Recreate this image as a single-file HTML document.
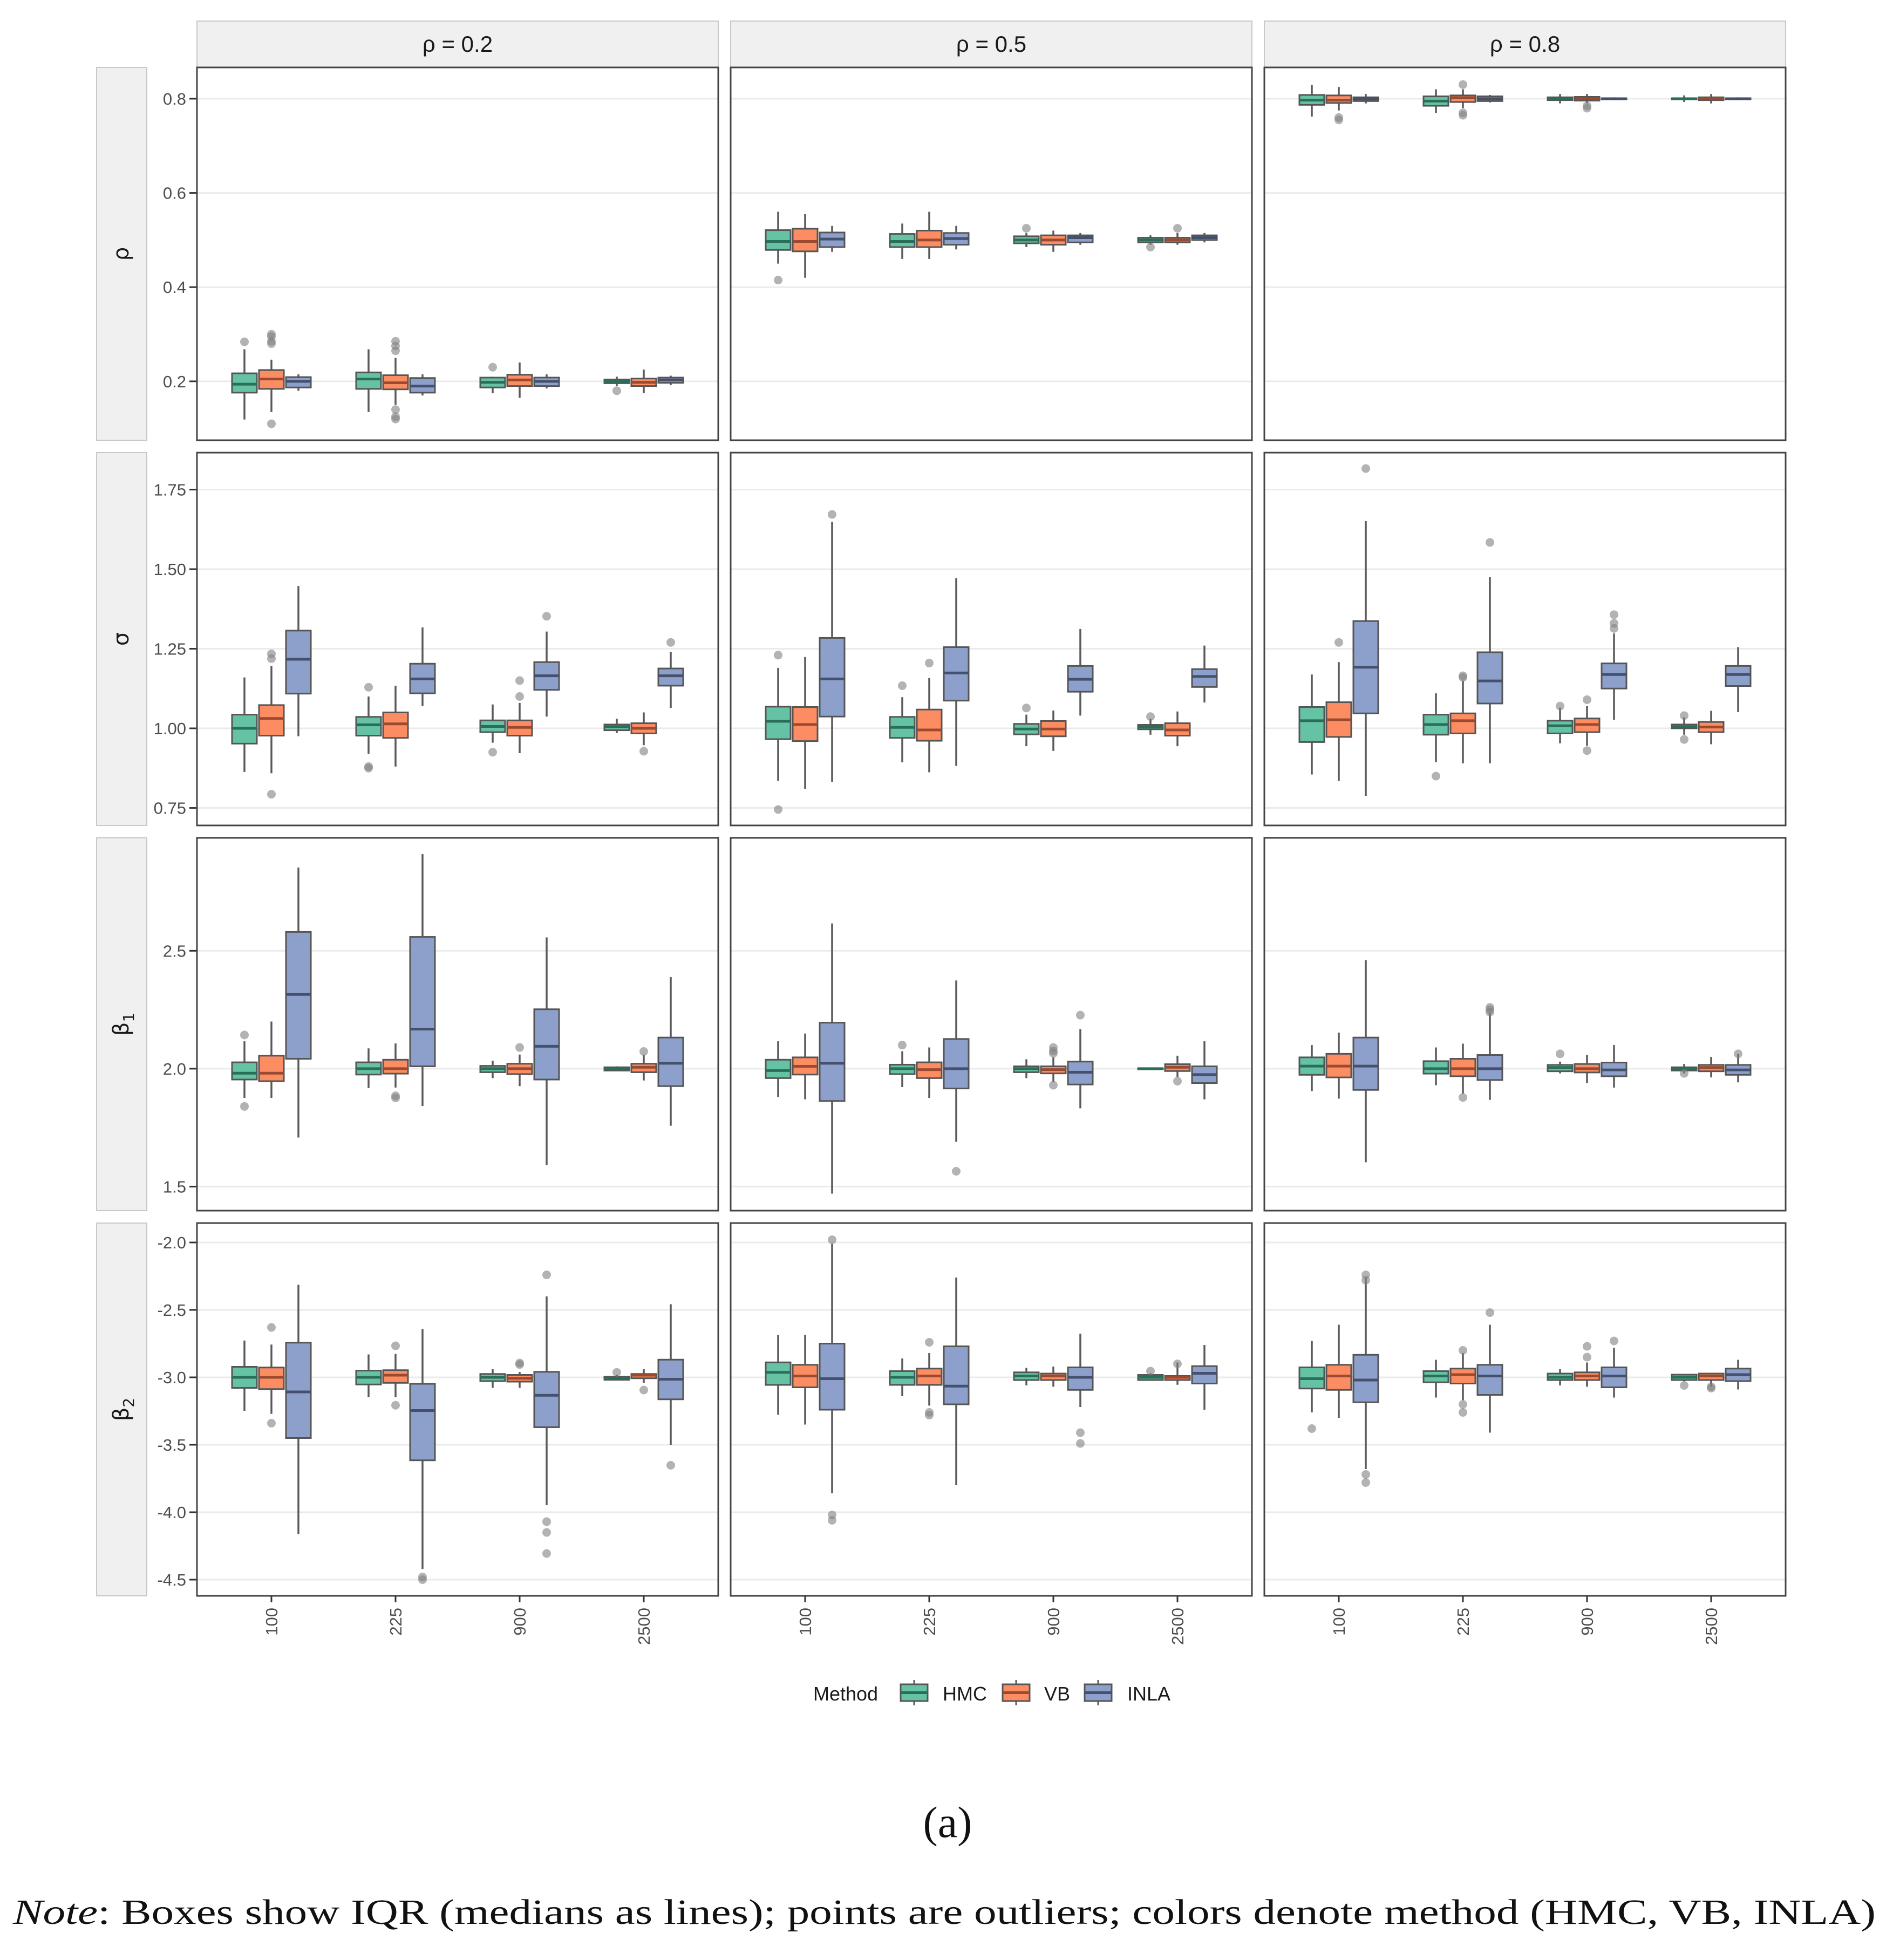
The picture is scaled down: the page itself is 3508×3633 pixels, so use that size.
<!DOCTYPE html>
<html><head><meta charset="utf-8"><style>
html,body{margin:0;padding:0;background:#fff;}
svg{display:block;}
</style></head><body>
<svg id="chart" xmlns="http://www.w3.org/2000/svg" width="3508" height="3633" viewBox="0 0 3508 3633">
<rect x="0" y="0" width="3508" height="3633" fill="#fff"/>
<g id="plots"></g>
<g id="legend"></g>
<text x="1756" y="3405" text-anchor="middle" font-family="Liberation Serif, serif" font-size="82" fill="#111">(a)</text>
<text x="24" y="3566" textLength="3452" lengthAdjust="spacingAndGlyphs" font-family="Liberation Serif, serif" font-size="66" fill="#111"><tspan font-style="italic">Note</tspan>: Boxes show IQR (medians as lines); points are outliers; colors denote method (HMC, VB, INLA)</text>
</svg>
<script>
const categories = ["100","225","900","2500"];
const methods = ["HMC","VB","INLA"];
const colLabels = ["ρ = 0.2","ρ = 0.5","ρ = 0.8"];
const rowLabels = ["ρ","σ","β1","β2"];
const rowDomains = [[0.075,0.8664],[0.695,1.866],[1.398,2.979],[-4.62,-1.856]];
const rowTicks = [[0.2,0.4,0.6,0.8],[0.75,1.0,1.25,1.5,1.75],[1.5,2.0,2.5],[-4.5,-4.0,-3.5,-3.0,-2.5,-2.0]];
const rowTickLabels = [["0.2","0.4","0.6","0.8"],["0.75","1.00","1.25","1.50","1.75"],["1.5","2.0","2.5"],["-4.5","-4.0","-3.5","-3.0","-2.5","-2.0"]];

// each box: [lower whisker, q1, median, q3, upper whisker]; order: n=100 (HMC,VB,INLA), n=225, n=900, n=2500
const rho_02 = [[0.119,0.176,0.194,0.217,0.268],[0.135,0.184,0.205,0.224,0.246],[0.18,0.187,0.2,0.209,0.215],
[0.135,0.184,0.205,0.219,0.268],[0.15,0.183,0.197,0.213,0.25],[0.17,0.176,0.19,0.207,0.215],
[0.175,0.187,0.198,0.208,0.21],[0.165,0.19,0.203,0.214,0.24],[0.185,0.19,0.2,0.208,0.215],
[0.19,0.196,0.2,0.204,0.21],[0.175,0.19,0.198,0.206,0.225],[0.192,0.197,0.203,0.208,0.212]];
const rho_02_out = [[0,0,0.284],[0,1,0.3],[0,1,0.295],[0,1,0.285],[0,1,0.28],[0,1,0.11],[1,1,0.285],[1,1,0.275],[1,1,0.265],[1,1,0.14],[1,1,0.125],[1,1,0.12],[2,0,0.23],[3,0,0.18]];
const rho_05 = [[0.45,0.479,0.497,0.521,0.56],[0.42,0.476,0.497,0.524,0.555],[0.475,0.485,0.502,0.516,0.53],
[0.46,0.485,0.497,0.513,0.535],[0.46,0.485,0.5,0.52,0.56],[0.48,0.49,0.503,0.515,0.53],
[0.485,0.493,0.5,0.508,0.515],[0.475,0.49,0.5,0.51,0.52],[0.49,0.495,0.505,0.51,0.515],
[0.49,0.495,0.5,0.505,0.51],[0.49,0.495,0.5,0.505,0.515],[0.495,0.5,0.505,0.51,0.515]];
const rho_05_out = [[0,0,0.415],[2,0,0.525],[3,0,0.485],[3,1,0.525]];
const rho_08 = [[0.762,0.787,0.797,0.808,0.829],[0.775,0.791,0.797,0.807,0.825],[0.79,0.795,0.8,0.803,0.81],
[0.77,0.785,0.795,0.805,0.82],[0.78,0.793,0.802,0.807,0.82],[0.792,0.795,0.8,0.805,0.808],
[0.79,0.797,0.8,0.803,0.81],[0.79,0.796,0.8,0.804,0.81],[0.797,0.799,0.8,0.801,0.803],
[0.793,0.799,0.8,0.801,0.807],[0.79,0.797,0.8,0.803,0.81],[0.797,0.799,0.8,0.801,0.803]];
const rho_08_out = [[0,1,0.755],[0,1,0.76],[1,1,0.83],[1,1,0.765],[1,1,0.77],[2,1,0.78],[2,1,0.785]];

const sigma_02 = [[0.863,0.952,1.0,1.043,1.16],[0.859,0.977,1.031,1.073,1.196],[0.975,1.109,1.217,1.307,1.447],
[0.92,0.977,1.011,1.036,1.1],[0.88,0.97,1.014,1.05,1.134],[1.07,1.11,1.155,1.203,1.317],
[0.955,0.988,1.006,1.025,1.075],[0.922,0.977,1.003,1.025,1.08],[1.037,1.121,1.165,1.208,1.304],
[0.985,0.994,1.005,1.012,1.03],[0.947,0.984,1.0,1.016,1.05],[1.064,1.134,1.165,1.188,1.24]];
const sigma_02_out = [[0,1,1.234],[0,1,1.219],[0,1,0.793],[1,0,1.129],[1,0,0.88],[1,0,0.875],[2,0,0.925],[2,1,1.15],[2,1,1.1],[2,2,1.352],[3,1,0.928],[3,2,1.27]];
const sigma_05 = [[0.835,0.966,1.022,1.068,1.19],[0.81,0.96,1.012,1.067,1.224],[0.832,1.037,1.155,1.284,1.649],
[0.893,0.97,1.003,1.036,1.098],[0.862,0.961,0.995,1.059,1.158],[0.882,1.087,1.174,1.255,1.472],
[0.944,0.981,0.998,1.014,1.043],[0.929,0.975,0.998,1.023,1.056],[1.04,1.115,1.154,1.196,1.312],
[0.98,0.997,1.004,1.011,1.03],[0.944,0.977,0.995,1.016,1.053],[1.081,1.13,1.163,1.186,1.26]];
const sigma_05_out = [[0,0,1.23],[0,0,0.745],[0,2,1.672],[1,0,1.134],[1,1,1.205],[2,0,1.064],[3,0,1.037]];
const sigma_08 = [[0.855,0.957,1.024,1.067,1.169],[0.835,0.973,1.027,1.082,1.208],[0.788,1.047,1.192,1.337,1.651],
[0.894,0.98,1.012,1.043,1.11],[0.89,0.984,1.024,1.047,1.15],[0.89,1.078,1.149,1.239,1.475],
[0.953,0.984,1.008,1.024,1.065],[0.945,0.988,1.012,1.031,1.07],[1.027,1.125,1.169,1.204,1.298],
[0.98,1.0,1.005,1.012,1.035],[0.95,0.988,1.004,1.02,1.055],[1.051,1.133,1.169,1.196,1.255]];
const sigma_08_out = [[0,1,1.27],[0,2,1.816],[1,0,0.85],[1,1,1.165],[1,1,1.16],[1,2,1.584],[2,0,1.07],[2,1,1.09],[2,1,0.93],[2,2,1.357],[2,2,1.33],[2,2,1.314],[3,0,1.04],[3,0,0.965]];

const beta1_02 = [[1.876,1.954,1.981,2.027,2.116],[1.876,1.947,1.981,2.055,2.2],[1.708,2.042,2.315,2.58,2.853],
[1.918,1.975,2.0,2.027,2.086],[1.92,1.979,2.0,2.038,2.107],[1.842,2.01,2.168,2.559,2.91],
[1.96,1.985,2.0,2.012,2.034],[1.926,1.977,2.0,2.021,2.06],[1.592,1.954,2.095,2.252,2.557],
[1.99,1.992,2.0,2.006,2.01],[1.95,1.985,2.006,2.021,2.06],[1.758,1.926,2.023,2.132,2.389]];
const beta1_02_out = [[0,0,2.143],[0,0,1.84],[1,1,1.876],[1,1,1.885],[2,1,2.09],[3,1,2.073]];
const beta1_05 = [[1.88,1.96,1.992,2.038,2.116],[1.87,1.975,2.01,2.048,2.149],[1.47,1.863,2.023,2.195,2.616],
[1.922,1.977,2.0,2.017,2.074],[1.876,1.96,1.996,2.027,2.09],[1.69,1.916,2.0,2.126,2.374],
[1.96,1.985,2.0,2.01,2.04],[1.943,1.98,1.996,2.01,2.048],[1.832,1.933,1.985,2.03,2.168],
[1.995,1.998,2.0,2.002,2.005],[1.964,1.99,2.006,2.019,2.055],[1.87,1.939,1.975,2.01,2.116]];
const beta1_05_out = [[1,0,2.1],[1,2,1.565],[2,1,2.09],[2,1,2.075],[2,1,2.065],[2,1,1.93],[2,2,2.227],[3,1,1.947]];
const beta1_08 = [[1.905,1.974,2.011,2.048,2.1],[1.873,1.963,2.011,2.063,2.153],[1.603,1.91,2.011,2.132,2.46],
[1.93,1.979,2.0,2.032,2.09],[1.894,1.968,2.0,2.042,2.106],[1.868,1.952,2.0,2.058,2.238],
[1.98,1.989,2.005,2.016,2.03],[1.94,1.984,2.0,2.02,2.058],[1.92,1.968,1.995,2.026,2.1],
[1.98,1.992,2.0,2.006,2.02],[1.963,1.989,2.005,2.016,2.05],[1.942,1.974,1.995,2.016,2.063]];
const beta1_08_out = [[1,1,1.878],[1,2,2.26],[1,2,2.25],[1,2,2.24],[2,0,2.063],[3,0,1.98],[3,2,2.063]];

const beta2_02 = [[-3.248,-3.078,-3.0,-2.922,-2.727],[-3.271,-3.087,-3.0,-2.927,-2.757],[-4.162,-3.45,-3.108,-2.743,-2.314],
[-3.147,-3.053,-3.0,-2.95,-2.83],[-3.147,-3.041,-2.984,-2.947,-2.826],[-4.421,-3.615,-3.246,-3.048,-2.642],
[-3.078,-3.028,-3.0,-2.975,-2.94],[-3.078,-3.032,-3.007,-2.982,-2.96],[-3.948,-3.37,-3.133,-2.959,-2.4],
[-3.02,-3.018,-3.007,-2.995,-2.98],[-3.04,-3.007,-2.984,-2.975,-2.94],[-3.5,-3.163,-3.014,-2.869,-2.458]];
const beta2_02_out = [[0,1,-2.63],[0,1,-3.34],[1,1,-2.766],[1,1,-3.207],[1,2,-4.48],[1,2,-4.5],[2,1,-2.894],[2,1,-2.905],[2,2,-2.24],[2,2,-4.07],[2,2,-4.15],[2,2,-4.306],[3,0,-2.963],[3,1,-3.094],[3,2,-3.652]];
const beta2_05 = [[-3.278,-3.056,-2.963,-2.889,-2.685],[-3.35,-3.074,-2.99,-2.907,-2.685],[-3.86,-3.24,-3.01,-2.75,-2.01],
[-3.14,-3.056,-3.0,-2.954,-2.86],[-3.21,-3.056,-2.99,-2.935,-2.82],[-3.8,-3.2,-3.065,-2.77,-2.26],
[-3.06,-3.02,-2.99,-2.963,-2.93],[-3.07,-3.02,-2.99,-2.972,-2.92],[-3.22,-3.093,-3.0,-2.926,-2.676],
[-3.02,-3.02,-3.0,-2.982,-2.97],[-3.055,-3.02,-3.0,-2.99,-2.89],[-3.24,-3.046,-2.97,-2.917,-2.76]];
const beta2_05_out = [[0,2,-1.98],[0,2,-4.02],[0,2,-4.06],[1,1,-2.74],[1,1,-3.26],[1,1,-3.28],[2,2,-3.41],[2,2,-3.49],[3,0,-2.954],[3,1,-2.9]];
const beta2_08 = [[-3.26,-3.083,-3.01,-2.926,-2.73],[-3.3,-3.093,-2.99,-2.907,-2.61],[-3.68,-3.185,-3.02,-2.833,-2.26],
[-3.15,-3.037,-2.99,-2.954,-2.87],[-3.17,-3.046,-2.98,-2.935,-2.82],[-3.41,-3.13,-2.99,-2.907,-2.61],
[-3.06,-3.02,-3.0,-2.972,-2.94],[-3.07,-3.02,-2.99,-2.963,-2.89],[-3.15,-3.074,-2.99,-2.926,-2.78],
[-3.03,-3.02,-3.0,-2.98,-2.98],[-3.07,-3.02,-2.99,-2.972,-2.97],[-3.09,-3.028,-2.98,-2.935,-2.87]];
const beta2_08_out = [[0,0,-3.38],[0,2,-2.24],[0,2,-2.28],[0,2,-3.72],[0,2,-3.78],[1,1,-2.8],[1,1,-3.2],[1,1,-3.26],[1,2,-2.52],[2,1,-2.77],[2,1,-2.85],[2,2,-2.73],[3,0,-3.06],[3,1,-3.07],[3,1,-3.08]];

const panelBoxes = [[rho_02,rho_05,rho_08],[sigma_02,sigma_05,sigma_08],[beta1_02,beta1_05,beta1_08],[beta2_02,beta2_05,beta2_08]];
const panelOut = [[rho_02_out,rho_05_out,rho_08_out],[sigma_02_out,sigma_05_out,sigma_08_out],[beta1_02_out,beta1_05_out,beta1_08_out],[beta2_02_out,beta2_05_out,beta2_08_out]];

const fills = ["#66c2a5","#fc8d62","#8da0cb"];
const meds = ["#2a6e5a","#9a4a2f","#44506c"];
const NS = "http://www.w3.org/2000/svg";
const PL = 365, PSTEP = 989, PW = 966, PT = 125, RSTEP = 714, PH = 691;
const root = document.getElementById("plots");
function mk(tag, attrs, parent){const e=document.createElementNS(NS,tag);for(const k in attrs)e.setAttribute(k,attrs[k]);parent.appendChild(e);return e;}
function xScale(col, cat, m){const band = PW/4.2;return PL+col*PSTEP+(cat+0.6)*band+(m-1)*50;}
function yScale(row, v){const d=rowDomains[row];return PT+row*RSTEP+PH*(d[1]-v)/(d[1]-d[0]);}

// column strips
for(let c=0;c<3;c++){
  const g=mk("g",{},root);
  
  
  mk("rect",{x:PL+c*PSTEP,y:39,width:PW,height:86,fill:"#f0f0f0",stroke:"#c8c8c8","stroke-width":2},g);
  const t=mk("text",{x:PL+c*PSTEP+PW/2,y:96,"text-anchor":"middle","font-family":"Liberation Sans, DejaVu Sans, sans-serif","font-size":42,fill:"#1a1a1a"},g);
  t.textContent=colLabels[c];
}
for(let r=0;r<4;r++){
  const top=PT+r*RSTEP;
  const sg=mk("g",{},root);
  
  
  mk("rect",{x:179,y:top,width:93,height:PH,fill:"#f0f0f0",stroke:"#c8c8c8","stroke-width":2},sg);
  const lt=mk("text",{transform:"translate(238,"+(top+PH/2)+") rotate(-90)","text-anchor":"middle","font-family":"DejaVu Sans, Liberation Sans, sans-serif","font-size":40,fill:"#1a1a1a"},sg);
  if(r>=2){lt.textContent="β";const s=mk("tspan",{"font-size":28,dy:10},lt);s.textContent=rowLabels[r].slice(1);}
  else lt.textContent=rowLabels[r];
  // y ticks labels (left of first column)
  const yg=mk("g",{},root);
  
  
  rowTicks[r].forEach((tv,i)=>{
    const y=yScale(r,tv);
    mk("line",{x1:351,x2:PL,y1:y,y2:y,stroke:"#333","stroke-width":3},yg);
    const t=mk("text",{x:345,y:y+11,"text-anchor":"end","font-family":"Liberation Sans, sans-serif","font-size":31,fill:"#4d4d4d"},yg);
    t.textContent=rowTickLabels[r][i];
  });
  for(let c=0;c<3;c++){
    const left=PL+c*PSTEP;
    const pg=mk("g",{},root);
    
    
    mk("rect",{x:left,y:top,width:PW,height:PH,fill:"#fff"},pg);
    rowTicks[r].forEach(tv=>{const y=yScale(r,tv);mk("line",{x1:left,x2:left+PW,y1:y,y2:y,stroke:"#ebebeb","stroke-width":3},pg);});
    const boxes=panelBoxes[r][c];
    boxes.forEach((b,i)=>{
      const cat=Math.floor(i/3), m=i%3;
      const cx=xScale(c,cat,m);
      const bg=mk("g",{},pg);
      
      
      mk("line",{x1:cx,x2:cx,y1:yScale(r,b[4]),y2:yScale(r,b[0]),stroke:"#5a5a5a","stroke-width":3.5},bg);
      const y3=yScale(r,b[3]), y1=yScale(r,b[1]);
      mk("rect",{x:cx-23,y:y3,width:46,height:Math.max(2,y1-y3),fill:fills[m],stroke:"#555","stroke-width":3},bg);
      const ym=yScale(r,b[2]);
      mk("line",{x1:cx-23,x2:cx+23,y1:ym,y2:ym,stroke:meds[m],"stroke-width":5},bg);
    });
    panelOut[r][c].forEach(o=>{
      const p=mk("circle",{cx:xScale(c,o[0],o[1]),cy:yScale(r,o[2]),r:8,fill:"#808080","fill-opacity":0.6},pg);
      
      
    });
    mk("rect",{x:left,y:top,width:PW,height:PH,fill:"none",stroke:"#444","stroke-width":3},pg);
    if(r===3){
      const xg=mk("g",{},root);
      
      
      categories.forEach((cl,k)=>{
        const x=xScale(c,k,1);
        mk("line",{x1:x,x2:x,y1:top+PH,y2:top+PH+12,stroke:"#333","stroke-width":3},xg);
        const t=mk("text",{transform:"translate("+(x+11)+","+(top+PH+22)+") rotate(-90)","text-anchor":"end","font-family":"Liberation Sans, sans-serif","font-size":31,fill:"#4d4d4d"},xg);
        t.textContent=cl;
      });
    }
  }
}
// legend
const lg=document.getElementById("legend");
const lt=mk("text",{x:1507,y:3152,"font-family":"Liberation Sans, sans-serif","font-size":36,fill:"#1a1a1a"},lg);
lt.textContent="Method";
const keyX=[1669,1858,2010], labX=[1747,1935,2089];
methods.forEach((m,i)=>{
  const kg=mk("g",{},lg);
  
  
  mk("line",{x1:keyX[i]+25,x2:keyX[i]+25,y1:3114,y2:3161,stroke:"#5a5a5a","stroke-width":3},kg);
  mk("rect",{x:keyX[i],y:3122,width:50,height:31,fill:fills[i],stroke:"#555","stroke-width":3},kg);
  mk("line",{x1:keyX[i],x2:keyX[i]+50,y1:3137.5,y2:3137.5,stroke:meds[i],"stroke-width":5},kg);
  const t=mk("text",{x:labX[i],y:3152,"font-family":"Liberation Sans, sans-serif","font-size":36,fill:"#1a1a1a"},kg);
  t.textContent=m;
});
</script>
</body></html>
